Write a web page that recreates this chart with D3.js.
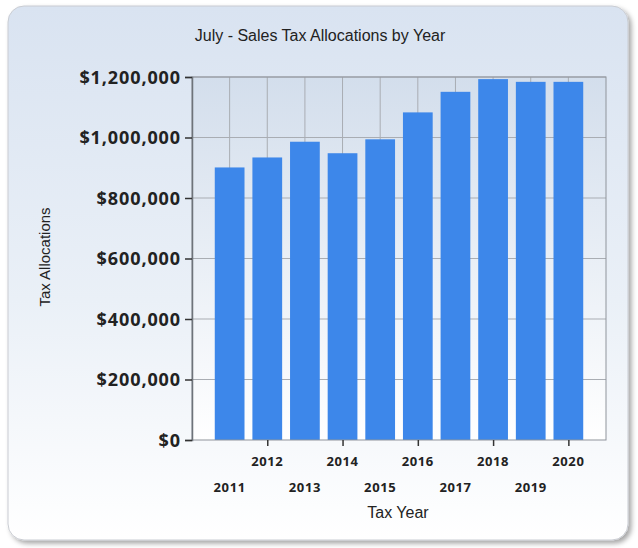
<!DOCTYPE html>
<html>
<head>
<meta charset="utf-8">
<script src="https://cdn.jsdelivr.net/npm/d3@7"></script>
<style>
  body { margin: 0; background: #ffffff; }
  svg { display: block; }
</style>
</head>
<body>
<div id="vis"></div>
<script>

var width = 638;
var height = 548;

// data
var years = [2011, 2012, 2013, 2014, 2015, 2016, 2017, 2018, 2019, 2020];
var allocations = [901000, 934000, 986000, 948000, 994000, 1083000, 1151000, 1193000, 1184000, 1184000];
var yTicks = [0, 200000, 400000, 600000, 800000, 1000000, 1200000];

var plot = { left: 192, right: 606, top: 77, bottom: 440 };

var svg = d3.select('#vis')
    .append('svg')
    .attr('width', width)
    .attr('height', height);

var defs = svg.append('defs');

var panelGrad = defs.append('linearGradient')
    .attr('id', 'panelGrad')
    .attr('x1', 0).attr('y1', 0).attr('x2', 0).attr('y2', 1);
panelGrad.append('stop').attr('offset', '0%').attr('stop-color', '#d9e3f1');
panelGrad.append('stop').attr('offset', '55%').attr('stop-color', '#eaf0f7');
panelGrad.append('stop').attr('offset', '100%').attr('stop-color', '#ffffff');

var plotGrad = defs.append('linearGradient')
    .attr('id', 'plotGrad')
    .attr('x1', 0).attr('y1', 0).attr('x2', 0).attr('y2', 1);
plotGrad.append('stop').attr('offset', '0%').attr('stop-color', '#d3deec');
plotGrad.append('stop').attr('offset', '100%').attr('stop-color', '#ffffff');

var shadow = defs.append('filter').attr('id', 'shadow')
    .attr('x', '-5%').attr('y', '-5%').attr('width', '115%').attr('height', '115%');
shadow.append('feDropShadow')
    .attr('dx', 3).attr('dy', 3).attr('stdDeviation', 2.5)
    .attr('flood-color', '#000').attr('flood-opacity', 0.35);

// outer panel
svg.append('rect')
    .attr('x', 8).attr('y', 6)
    .attr('width', 620).attr('height', 534)
    .attr('rx', 16).attr('ry', 16)
    .attr('fill', 'url(#panelGrad)')
    .attr('stroke', '#c9ccd2')
    .attr('stroke-width', 1)
    .attr('filter', 'url(#shadow)');

var x = d3.scaleLinear()
    .domain([2010, 2021])
    .range([plot.left, plot.right]);

var y = d3.scaleLinear()
    .domain([0, 1200000])
    .range([plot.bottom, plot.top]);

// plot background
svg.append('rect')
    .attr('x', plot.left).attr('y', plot.top)
    .attr('width', plot.right - plot.left)
    .attr('height', plot.bottom - plot.top)
    .attr('fill', 'url(#plotGrad)');

// grid lines
svg.append('g')
    .selectAll('line')
    .data(d3.range(2011, 2021))
    .enter().append('line')
    .attr('x1', function (d) { return x(d); })
    .attr('x2', function (d) { return x(d); })
    .attr('y1', plot.top).attr('y2', plot.bottom)
    .attr('stroke', '#a9adb3')
    .attr('stroke-width', 1);

svg.append('g')
    .selectAll('line')
    .data(yTicks.slice(1))
    .enter().append('line')
    .attr('x1', plot.left).attr('x2', plot.right)
    .attr('y1', function (d) { return y(d); })
    .attr('y2', function (d) { return y(d); })
    .attr('stroke', '#a9adb3')
    .attr('stroke-width', 1);

// bars
var barW = (x(2012) - x(2011)) * 0.79;

svg.append('g')
    .selectAll('rect')
    .data(years)
    .enter().append('rect')
    .attr('x', function (d) { return x(d) - barW / 2; })
    .attr('y', function (d, i) { return y(allocations[i]); })
    .attr('width', barW)
    .attr('height', function (d, i) { return plot.bottom - y(allocations[i]); })
    .attr('fill', '#3d87ea');

// plot border
svg.append('rect')
    .attr('x', plot.left).attr('y', plot.top)
    .attr('width', plot.right - plot.left)
    .attr('height', plot.bottom - plot.top)
    .attr('fill', 'none')
    .attr('stroke', '#8f949b')
    .attr('stroke-width', 1);

// y axis
var yAxis = d3.axisLeft(y)
    .tickValues(yTicks)
    .tickSize(7)
    .tickPadding(4)
    .tickFormat(function (d) { return '$' + d3.format(',')(d); });

var yG = svg.append('g')
    .attr('transform', 'translate(' + plot.left + ',0)')
    .call(yAxis);
yG.select('.domain').attr('stroke', '#6e737a').attr('stroke-width', 1.5);
yG.selectAll('.tick line').attr('stroke', '#333').attr('stroke-width', 1.5);
yG.selectAll('.tick text')
    .attr('fill', '#222')
    .attr('dy', '0.36em')
    .style('font-family', '"Open Sans", "DejaVu Sans", sans-serif')
    .style('font-weight', 'bold')
    .style('font-size', '18px')
    .style('letter-spacing', '0.9px');

// x axis: ticks on even years, labels staggered
var xAxis = d3.axisBottom(x)
    .tickValues(years.filter(function (d) { return d % 2 === 0; }))
    .tickSize(6)
    .tickFormat('');

var xG = svg.append('g')
    .attr('transform', 'translate(0,' + plot.bottom + ')')
    .call(xAxis);
xG.select('.domain').remove();
xG.selectAll('.tick line').attr('stroke', '#333').attr('stroke-width', 1.5);

svg.append('g')
    .selectAll('text')
    .data(years)
    .enter().append('text')
    .attr('x', function (d) { return x(d); })
    .attr('y', function (d) { return d % 2 === 0 ? 466 : 492; })
    .attr('text-anchor', 'middle')
    .attr('fill', '#222')
    .style('font-family', '"Open Sans", "DejaVu Sans", sans-serif')
    .style('font-weight', 'bold')
    .style('font-size', '13px')
    .style('letter-spacing', '0.6px')
    .text(function (d) { return d; });

// titles
svg.append('text')
    .attr('x', 320).attr('y', 41)
    .attr('text-anchor', 'middle')
    .attr('fill', '#222')
    .style('font-family', '"Liberation Sans", Arial, sans-serif')
    .style('font-size', '16px')
    .text('July - Sales Tax Allocations by Year');

svg.append('text')
    .attr('x', 398).attr('y', 518)
    .attr('text-anchor', 'middle')
    .attr('fill', '#222')
    .style('font-family', '"Liberation Sans", Arial, sans-serif')
    .style('font-size', '16px')
    .text('Tax Year');

svg.append('text')
    .attr('transform', 'translate(50,257) rotate(-90)')
    .attr('text-anchor', 'middle')
    .attr('fill', '#222')
    .style('font-family', '"Liberation Sans", Arial, sans-serif')
    .style('font-size', '15px')
    .text('Tax Allocations');

</script>
</body>
</html>
